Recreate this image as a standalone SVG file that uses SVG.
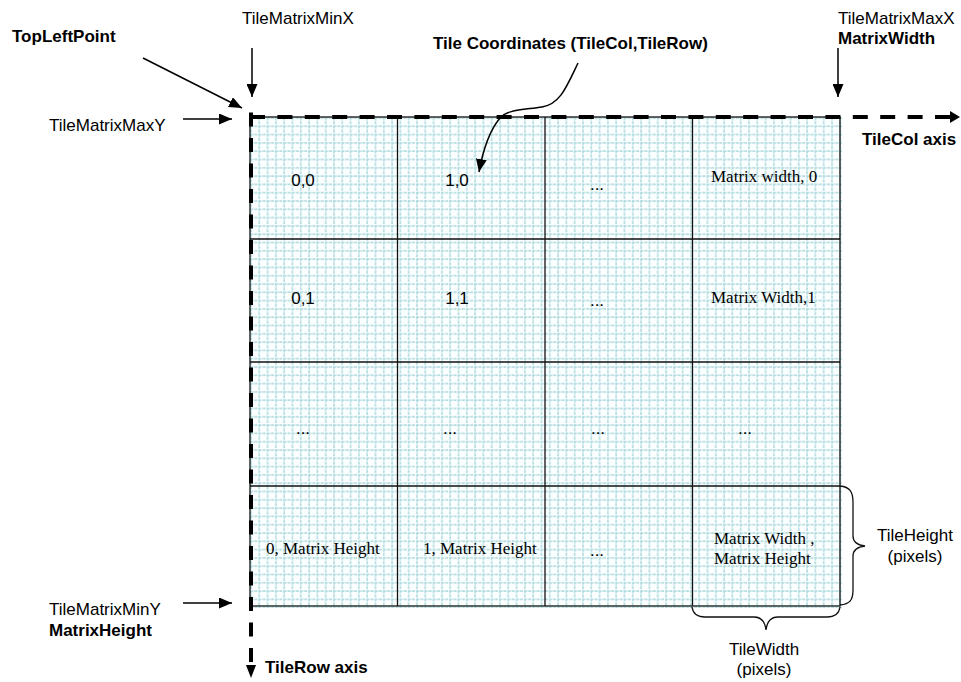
<svg xmlns="http://www.w3.org/2000/svg" width="961" height="682" viewBox="0 0 961 682">
<style>
.l{font-family:"Liberation Sans",Arial,sans-serif;font-size:17px;fill:#000}
.b{font-family:"Liberation Sans",Arial,sans-serif;font-size:17px;font-weight:bold;fill:#000}
.s{font-family:"Liberation Serif","Times New Roman",serif;font-size:17px;fill:#000}
.thin{stroke:#111;stroke-width:1.3;fill:none}
.arr{stroke:#000;stroke-width:1.5;fill:none;marker-end:url(#ah)}
.dash{stroke:#000;stroke-width:4;fill:none}
</style>
<defs>
<marker id="ah" markerUnits="userSpaceOnUse" markerWidth="13" markerHeight="11" refX="13" refY="5.5" orient="auto" viewBox="0 0 13 11">
<path d="M0,0 L13,5.5 L0,11 Z" fill="#000"/>
</marker>
<pattern id="grid" patternUnits="userSpaceOnUse" x="250" y="117" width="8.3" height="8.3">
<rect width="8.3" height="8.3" fill="#fbfefe"/>
<path d="M1,0 V8.3 M0,1 H8.3" stroke="#b3dce0" stroke-width="1.6" stroke-dasharray="3.2 1"/>
</pattern>
</defs>
<rect x="250" y="117" width="592" height="491" fill="url(#grid)"/>
<g id="grid-lines">
<rect class="thin" x="250" y="117" width="590" height="489"/>
<path class="thin" d="M397.5,117 V606 M545,117 V606 M692.5,117 V606 M250,239 H840 M250,362 H840 M250,486 H840"/>
</g>
<g id="connectors">
<path class="dash" d="M250,117 H950" stroke-dasharray="15 12.4"/>
<polygon points="950,111 960,117 950,123" fill="#000"/>
<path class="dash" d="M251,112.5 V664" stroke-dasharray="14 11.5"/>
<polygon points="246,665 256,665 251,678" fill="#000"/>
<path class="arr" d="M143,58 L242,108"/>
<path class="arr" d="M252,48 V97"/>
<path class="arr" d="M183,119 H232"/>
<path class="arr" d="M183,603 H232"/>
<path class="arr" d="M838,48 V97"/>
<path class="arr" d="M578,63 C566,88 560,104 542,107 C522,110 506,110 500,118 C490,130 483,150 479,172"/>
<path class="thin" d="M840,486 C850,487 853,492 853,502 V536 C853,542 857,545 865,546 C857,547 853,550 853,556 V590 C853,600 850,604 840,605" stroke-width="1.5"/>
<path class="thin" d="M692,607 C693,614 697,617 705,617 H754 C761,617 765,622 766,630 C767,622 771,617 778,617 H827 C835,617 839,614 840,607" stroke-width="1.5"/>
</g>
<g id="labels">
<text class="b" x="12" y="42">TopLeftPoint</text>
<text class="l" x="242" y="24">TileMatrixMinX</text>
<text class="l" x="49" y="131">TileMatrixMaxY</text>
<text class="l" x="838" y="24">TileMatrixMaxX</text>
<text class="b" x="838" y="44">MatrixWidth</text>
<text class="b" x="433" y="49">Tile Coordinates (TileCol,TileRow)</text>
<text class="b" x="862" y="145">TileCol axis</text>
<text class="l" x="49" y="615">TileMatrixMinY</text>
<text class="b" x="49" y="636">MatrixHeight</text>
<text class="b" x="265" y="673">TileRow axis</text>
<text class="l" x="915" y="541" text-anchor="middle">TileHeight</text>
<text class="l" x="915" y="562" text-anchor="middle">(pixels)</text>
<text class="l" x="764" y="655" text-anchor="middle">TileWidth</text>
<text class="l" x="764" y="675" text-anchor="middle">(pixels)</text>
</g>
<g id="cells">
<text class="l" x="303" y="186" text-anchor="middle">0,0</text>
<text class="l" x="457" y="186" text-anchor="middle">1,0</text>
<text class="l" x="597" y="190" text-anchor="middle">...</text>
<text class="s" x="711" y="182">Matrix width, 0</text>
<text class="l" x="303" y="304" text-anchor="middle">0,1</text>
<text class="l" x="457" y="304" text-anchor="middle">1,1</text>
<text class="l" x="597" y="306" text-anchor="middle">...</text>
<text class="s" x="711" y="303">Matrix Width,1</text>
<text class="l" x="303" y="434" text-anchor="middle">...</text>
<text class="l" x="450" y="434" text-anchor="middle">...</text>
<text class="l" x="598" y="434" text-anchor="middle">...</text>
<text class="l" x="745" y="434" text-anchor="middle">...</text>
<text class="s" x="266" y="554">0, Matrix Height</text>
<text class="s" x="423" y="554">1, Matrix Height</text>
<text class="l" x="597" y="556" text-anchor="middle">...</text>
<text class="s" x="714" y="544">Matrix Width ,</text>
<text class="s" x="714" y="564">Matrix Height</text>
</g>
</svg>
